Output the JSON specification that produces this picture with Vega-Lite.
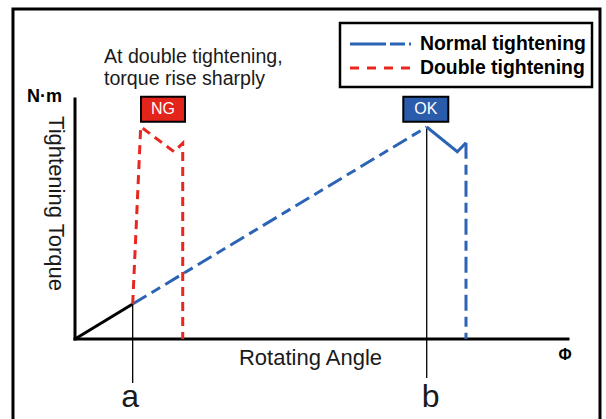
{
  "$schema": "https://vega.github.io/schema/vega-lite/v6.json",
  "width": 606,
  "height": 419,
  "autosize": "none",
  "padding": 0,
  "background": "white",
  "config": {"view": {"stroke": null}, "font": "Liberation Sans"},
  "datasets": {
    "frame": [{"x": -12.58, "x2": 106.49, "y": 137.5, "y2": -36}],
    "axes": [
      {"x": 0, "y": 0, "x2": 100, "y2": 0},
      {"x": 0, "y": 0, "x2": 0, "y2": 100}
    ],
    "guides": [
      {"x": 11.7, "y": 14.58, "x2": 11.7, "y2": -18.33},
      {"x": 71.34, "y": 88.33, "x2": 71.34, "y2": -16.25}
    ],
    "initial": [{"x": 0, "y": 0, "x2": 11.7, "y2": 14.58}],
    "curves": [
      {"series": "Normal", "seg": "rise", "o": 1, "x": 11.7, "y": 14.58},
      {"series": "Normal", "seg": "rise", "o": 2, "x": 71.34, "y": 88.33},
      {"series": "Normal", "seg": "peak", "o": 1, "x": 71.34, "y": 88.33},
      {"series": "Normal", "seg": "peak", "o": 2, "x": 77.55, "y": 78.04},
      {"series": "Normal", "seg": "peak", "o": 3, "x": 79.31, "y": 81.79},
      {"series": "Normal", "seg": "drop", "o": 1, "x": 79.31, "y": 81.79},
      {"series": "Normal", "seg": "drop", "o": 2, "x": 79.31, "y": 0},
      {"series": "Double", "seg": "all", "o": 1, "x": 11.7, "y": 14.58},
      {"series": "Double", "seg": "all", "o": 2, "x": 13.33, "y": 88.46},
      {"series": "Double", "seg": "all", "o": 3, "x": 20.08, "y": 78.04},
      {"series": "Double", "seg": "all", "o": 4, "x": 21.85, "y": 81.54},
      {"series": "Double", "seg": "all", "o": 5, "x": 21.85, "y": 0}
    ],
    "boxes": [
      {"name": "NG", "x": 13.39, "x2": 22.31, "y": 100.96, "y2": 90.54},
      {"name": "OK", "x": 66.59, "x2": 75.72, "y": 100.96, "y2": 90.54}
    ],
    "boxlabels": [
      {"text": "NG", "x": 17.85, "y": 95.75},
      {"text": "OK", "x": 71.15, "y": 95.75}
    ],
    "legendbox": [{"x": 53.75, "x2": 104.87, "y": 131.67, "y2": 105}],
    "legendblue": [{"x": 55.78, "x2": 68.15, "y": 122.92, "y2": 122.92}],
    "legendred": [{"x": 55.78, "x2": 67.95, "y": 112.92, "y2": 112.92}],
    "legendtext": [
      {"text": "Normal tightening", "x": 69.98, "y": 122.92},
      {"text": "Double tightening", "x": 69.98, "y": 112.92}
    ],
    "note": [
      {"text": "At double tightening,", "x": 5.88, "y": 115.13},
      {"text": "torque rise sharply", "x": 5.88, "y": 105.83}
    ],
    "unit": [{"text": "N·m", "x": -9.74, "y": 98.88}],
    "ytitle": [{"text": "Tightening Torque", "x": -3.9, "y": 56.46}],
    "xtitle": [{"text": "Rotating Angle", "x": 47.77, "y": -10.83}],
    "phi": [{"text": "Φ", "x": 99.39, "y": -6.67}],
    "points": [
      {"text": "a", "x": 11.16, "y": -28.33},
      {"text": "b", "x": 72.15, "y": -28.21}
    ]
  },
  "encoding": {
    "x": {"field": "x", "type": "quantitative", "scale": {"domain": [-15.213, 107.708], "nice": false, "zero": false}, "axis": null},
    "y": {"field": "y", "type": "quantitative", "scale": {"domain": [-33.333, 141.25], "nice": false, "zero": false}, "axis": null}
  },
  "layer": [
    {
      "data": {"name": "frame"},
      "mark": {"type": "rect", "filled": false, "color": "#000000", "strokeWidth": 3},
      "encoding": {"x2": {"field": "x2"}, "y2": {"field": "y2"}}
    },
    {
      "data": {"name": "axes"},
      "mark": {"type": "rule", "color": "#000000", "strokeWidth": 3, "strokeCap": "square"},
      "encoding": {"x2": {"field": "x2"}, "y2": {"field": "y2"}}
    },
    {
      "data": {"name": "guides"},
      "mark": {"type": "rule", "color": "#000000", "strokeWidth": 1.3},
      "encoding": {"x2": {"field": "x2"}, "y2": {"field": "y2"}}
    },
    {
      "data": {"name": "initial"},
      "mark": {"type": "rule", "color": "#000000", "strokeWidth": 3},
      "encoding": {"x2": {"field": "x2"}, "y2": {"field": "y2"}}
    },
    {
      "data": {"name": "curves"},
      "transform": [{"filter": "datum.seg === 'rise' || datum.seg === 'drop'"}],
      "mark": {"type": "line", "color": "#2c64b5", "strokeWidth": 3, "strokeDash": [16, 6, 10, 6], "strokeJoin": "miter"},
      "encoding": {"detail": {"field": "seg"}, "order": {"field": "o", "type": "quantitative"}}
    },
    {
      "data": {"name": "curves"},
      "transform": [{"filter": "datum.seg === 'peak'"}],
      "mark": {"type": "line", "color": "#2c64b5", "strokeWidth": 3, "strokeJoin": "miter"},
      "encoding": {"detail": {"field": "seg"}, "order": {"field": "o", "type": "quantitative"}}
    },
    {
      "data": {"name": "curves"},
      "transform": [{"filter": "datum.series === 'Double'"}],
      "mark": {"type": "line", "color": "#e8271f", "strokeWidth": 3, "strokeDash": [9, 6], "strokeJoin": "miter"},
      "encoding": {"detail": {"field": "seg"}, "order": {"field": "o", "type": "quantitative"}}
    },
    {
      "data": {"name": "boxes"},
      "mark": {"type": "rect", "stroke": "#000000", "strokeWidth": 2},
      "encoding": {
        "x2": {"field": "x2"}, "y2": {"field": "y2"},
        "fill": {"field": "name", "type": "nominal", "scale": {"domain": ["NG", "OK"], "range": ["#e3241b", "#2a5cab"]}, "legend": null}
      }
    },
    {
      "data": {"name": "boxlabels"},
      "mark": {"type": "text", "color": "#ffffff", "fontSize": 16, "align": "center", "baseline": "middle"},
      "encoding": {"text": {"field": "text"}}
    },
    {
      "data": {"name": "legendbox"},
      "mark": {"type": "rect", "filled": false, "color": "#000000", "strokeWidth": 2.5},
      "encoding": {"x2": {"field": "x2"}, "y2": {"field": "y2"}}
    },
    {
      "data": {"name": "legendblue"},
      "mark": {"type": "rule", "color": "#2c64b5", "strokeWidth": 3, "strokeDash": [36, 4, 15, 4, 3, 50]},
      "encoding": {"x2": {"field": "x2"}, "y2": {"field": "y2"}}
    },
    {
      "data": {"name": "legendred"},
      "mark": {"type": "rule", "color": "#e8271f", "strokeWidth": 3, "strokeDash": [9, 8]},
      "encoding": {"x2": {"field": "x2"}, "y2": {"field": "y2"}}
    },
    {
      "data": {"name": "legendtext"},
      "mark": {"type": "text", "color": "#000000", "fontSize": 19.4, "fontWeight": "bold", "align": "left", "baseline": "middle"},
      "encoding": {"text": {"field": "text"}}
    },
    {
      "data": {"name": "note"},
      "mark": {"type": "text", "color": "#1a1a1a", "fontSize": 19.6, "align": "left", "baseline": "alphabetic"},
      "encoding": {"text": {"field": "text"}}
    },
    {
      "data": {"name": "unit"},
      "mark": {"type": "text", "color": "#000000", "fontSize": 18, "fontWeight": "bold", "align": "left", "baseline": "alphabetic"},
      "encoding": {"text": {"field": "text"}}
    },
    {
      "data": {"name": "ytitle"},
      "mark": {"type": "text", "color": "#1a1a1a", "fontSize": 22, "angle": 90, "align": "center", "baseline": "middle"},
      "encoding": {"text": {"field": "text"}}
    },
    {
      "data": {"name": "xtitle"},
      "mark": {"type": "text", "color": "#1a1a1a", "fontSize": 22, "align": "center", "baseline": "alphabetic"},
      "encoding": {"text": {"field": "text"}}
    },
    {
      "data": {"name": "phi"},
      "mark": {"type": "text", "color": "#000000", "fontSize": 16, "fontWeight": "bold", "align": "center", "baseline": "middle"},
      "encoding": {"text": {"field": "text"}}
    },
    {
      "data": {"name": "points"},
      "mark": {"type": "text", "color": "#1a1a1a", "fontSize": 32, "align": "center", "baseline": "alphabetic"},
      "encoding": {"text": {"field": "text"}}
    }
  ]
}
